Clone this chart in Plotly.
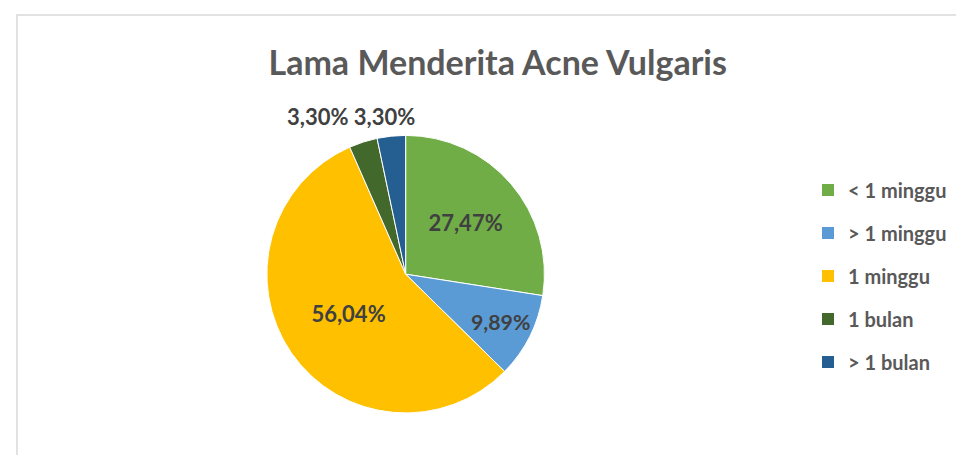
import plotly.graph_objects as go

categories = ["< 1 minggu", "> 1 minggu", "1 minggu", "1 bulan", "> 1 bulan"]
values = [27.47, 9.89, 56.04, 3.30, 3.30]
label_text = ["27,47%", "9,89%", "56,04%", "3,30%", "3,30%"]
colors = ["#70AD47", "#5B9BD5", "#FFC000", "#43682B", "#255E91"]
show_inside = [True, True, True, False, False]

W, H = 964, 455
FONT = "Lato"
LBL = dict(family=FONT, size=22, color="#404040", weight="bold")

fig = go.Figure()
fig.add_trace(go.Pie(
    labels=categories, values=values,
    text=[t if s else "" for t, s in zip(label_text, show_inside)],
    texttemplate="%{text}", textinfo="text",
    textposition=["inside" if s else "none" for s in show_inside],
    insidetextorientation="horizontal",
    sort=False, direction="clockwise", rotation=0,
    marker=dict(colors=colors, line=dict(color="white", width=1)),
    textfont=LBL, insidetextfont=LBL,
    domain=dict(x=[0.19, 0.635], y=[0.11, 0.72]),
    showlegend=False, hoverinfo="label+percent",
))
# legend entries
for c, col in zip(categories, colors):
    fig.add_trace(go.Scatter(
        x=[None], y=[None], mode="markers", name=c, legendgroup=c,
        marker=dict(symbol="square", size=13, color=col),
        showlegend=True,
    ))

small_labels = " ".join(t for t, s in zip(label_text, show_inside) if not s)

fig.update_layout(
    width=W, height=H,
    margin=dict(l=0, r=0, t=0, b=0),
    paper_bgcolor="white", plot_bgcolor="white",
    title=dict(text="<b>Lama Menderita Acne Vulgaris</b>", x=0.508, xanchor="center",
               y=1 - 55 / H, yanchor="middle",
               font=dict(family=FONT, size=34, color="#595959")),
    xaxis=dict(visible=False), yaxis=dict(visible=False),
    legend=dict(x=800 / W, xanchor="left", y=1 - 268 / H, yanchor="middle",
                font=dict(family=FONT, size=20, color="#595959", weight="bold"),
                tracegroupgap=14, itemsizing="constant", bgcolor="rgba(0,0,0,0)"),
    annotations=[dict(text=small_labels, xref="paper", yref="paper",
                      x=343 / W, y=1 - 108 / H, xanchor="center", yanchor="middle",
                      showarrow=False, font=LBL)],
    shapes=[dict(type="rect", xref="paper", yref="paper",
                 x0=9 / W, x1=956 / W, y0=-0.05, y1=1 - 7 / H,
                 line=dict(color="#D9D9D9", width=1.5))],
)
fig.write_html("out.html")
